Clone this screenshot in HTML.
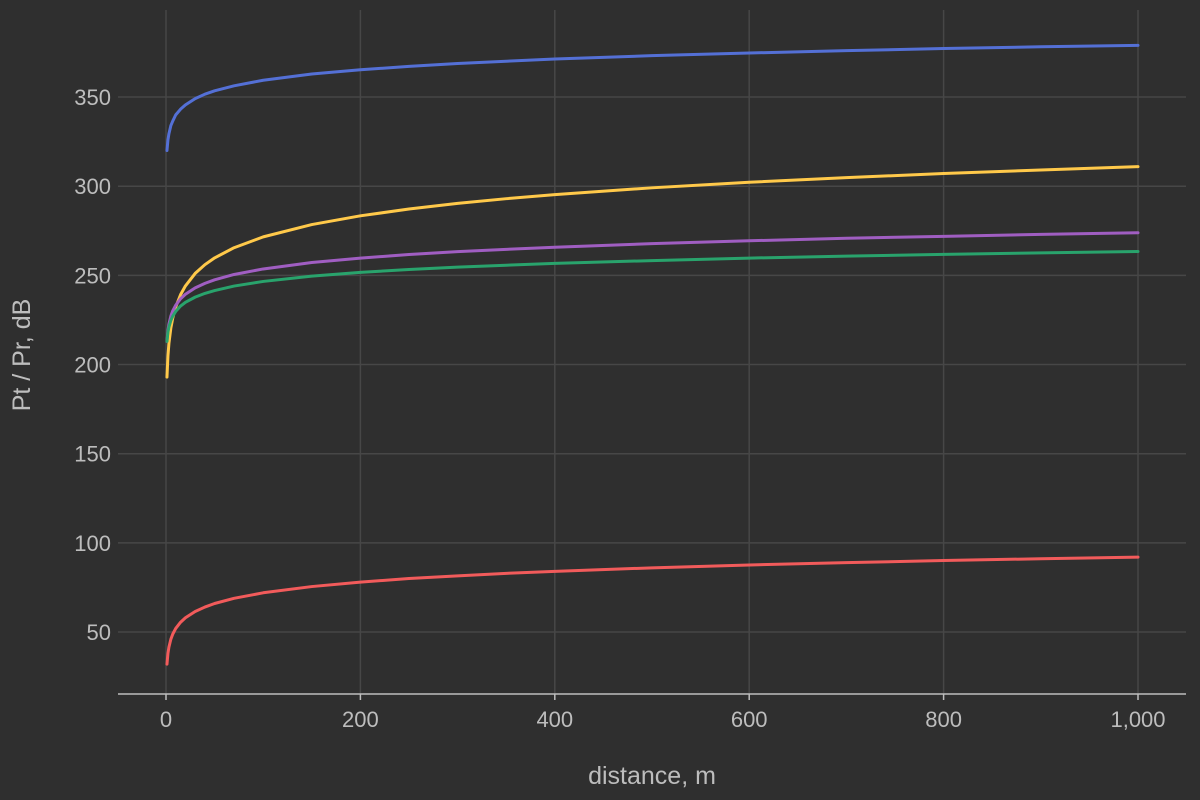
<!DOCTYPE html>
<html><head><meta charset="utf-8"><style>
html,body{margin:0;padding:0;background:#2f2f2f;}
svg{display:block;font-family:"Liberation Sans",sans-serif;}
</style></head><body>
<svg id="chart" width="1200" height="800" viewBox="0 0 1200 800">
<rect width="1200" height="800" fill="#2f2f2f"/>
<g id="grid"></g>
<g id="axes"></g>
<g id="series"></g>
<text x="652" y="784" fill="#bdbdbd" font-size="25" text-anchor="middle">distance, m</text>
<text transform="translate(30,355) rotate(-90)" fill="#bdbdbd" font-size="25" text-anchor="middle">Pt / Pr, dB</text>
</svg>
<script>
const distances=[1,2,3,5,7,10,15,20,30,40,50,70,100,150,200,250,300,350,400,500,600,700,800,900,1000];
const blueVals=[320,326,329.4,334,336.6,340,343.2,345.6,349.1,351.6,353.5,356.3,359.4,362.9,365.3,367.2,368.8,370.1,371.3,373.2,374.7,376,377.2,378.2,379];
const yellowVals=[193,204.8,211.8,220.5,226.2,232.3,239.2,244.1,251.1,256,259.8,265.5,271.6,278.5,283.4,287.2,290.4,293,295.3,299.1,302.2,304.8,307.1,309.1,311];
const purpleVals=[213,219.1,222.7,227.2,230.2,233.3,236.9,239.4,243,245.5,247.5,250.5,253.6,257.2,259.7,261.7,263.3,264.6,265.8,267.8,269.4,270.8,271.9,273,273.9];
const greenVals=[213,218.1,221,224.7,227.2,229.8,232.8,234.9,237.8,239.9,241.5,244,246.6,249.6,251.7,253.3,254.6,255.7,256.7,258.3,259.7,260.8,261.8,262.6,263.4];
const redVals=[32,38,41.5,46,48.9,52,55.5,58,61.5,64,66,68.9,72,75.5,78,80,81.5,82.9,84,86,87.6,88.9,90.1,91.1,92];
const xTicks=[0,200,400,600,800,1000];
const xTickLabels=["0","200","400","600","800","1,000"];
const yTicks=[50,100,150,200,250,300,350];

const NS="http://www.w3.org/2000/svg";
const xs=v=>166+v*0.972;
const ys=v=>721.2-v*1.7833;
function mk(t,a,p){const e=document.createElementNS(NS,t);for(const k in a)e.setAttribute(k,a[k]);p.appendChild(e);return e;}
const grid=document.getElementById('grid'),axes=document.getElementById('axes'),ser=document.getElementById('series');
yTicks.forEach(v=>{
  const l=mk('line',{x1:118,x2:1186,y1:ys(v),y2:ys(v),stroke:'#474747','stroke-width':1.5},grid);
  
  
  const t=mk('text',{x:111,y:ys(v)+8,fill:'#bdbdbd','font-size':22,'text-anchor':'end'},axes);
  t.textContent=v;
  
  
});
xTicks.forEach((v,i)=>{
  const l=mk('line',{x1:xs(v),x2:xs(v),y1:10,y2:694,stroke:'#474747','stroke-width':1.5},grid);
  
  
  const tk=mk('line',{x1:xs(v),x2:xs(v),y1:694,y2:700,stroke:'#bdbdbd','stroke-width':1.5},axes);
  
  
  const t=mk('text',{x:xs(v),y:727,fill:'#bdbdbd','font-size':22,'text-anchor':'middle'},axes);
  t.textContent=xTickLabels[i];
  
  
});
const ax=mk('line',{x1:118,x2:1186,y1:694,y2:694,stroke:'#bdbdbd','stroke-width':1.5},axes);


const seriesList=[[blueVals,'#5470d6','series-blue'],[yellowVals,'#ffc94a','series-yellow'],[purpleVals,'#a05ec2','series-purple'],[greenVals,'#29a36c','series-green'],[redVals,'#f25b5b','series-red']];
seriesList.forEach(s=>{
  const d=distances.map((x,i)=>(i?'L':'M')+xs(x).toFixed(2)+','+ys(s[0][i]).toFixed(2)).join(' ');
  const p=mk('path',{d:d,fill:'none',stroke:s[1],'stroke-width':3,'stroke-linejoin':'round','stroke-linecap':'round'},ser);
  
  
});
</script>
</body></html>
